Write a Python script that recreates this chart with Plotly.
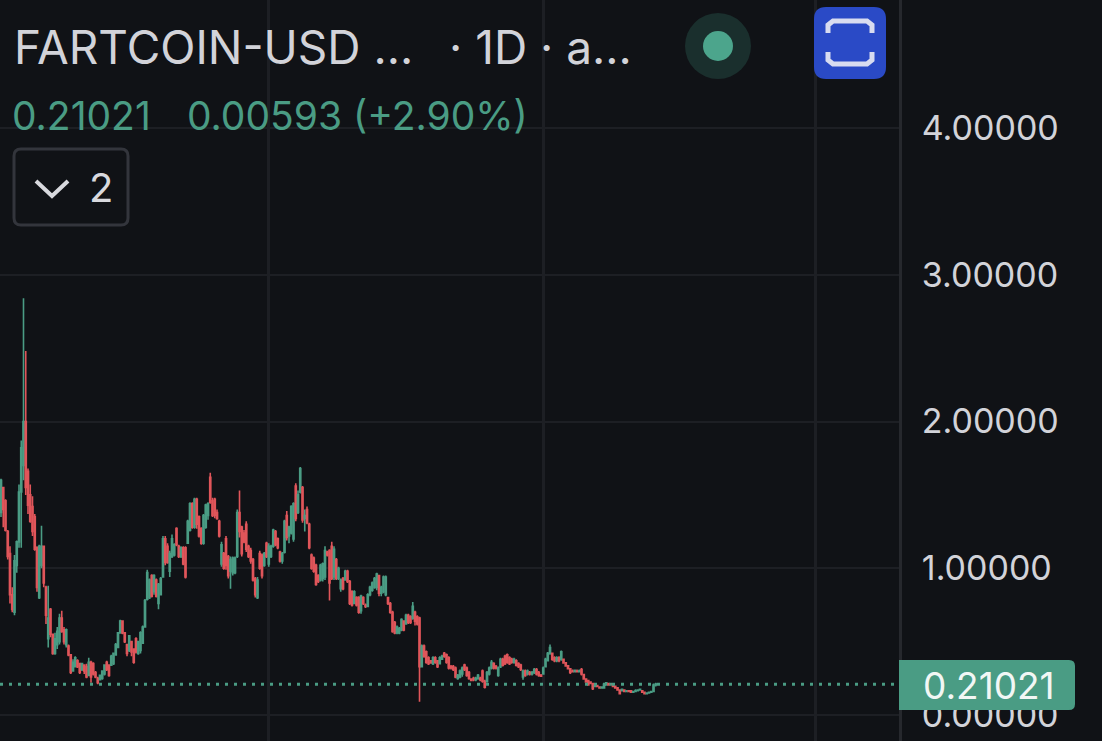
import plotly.graph_objects as go

# Daily bars, in USD
highs = [
 1.61,1.55,1.47,1.26,1.15,.87,1.09,1.19,1.57,1.87,
 2.84,2.48,1.68,1.57,1.49,1.37,1.15,1.16,1.29,1.15,
 .88,.88,.73,.55,.56,.60,.69,.71,.60,.59,
 .48,.41,.38,.40,.38,.35,.35,.34,.35,.39,
 .37,.36,.30,.26,.27,.30,.34,.37,.34,.41,
 .42,.49,.56,.65,.64,.56,.48,.54,.50,.45,
 .53,.50,.57,.61,.79,.99,.93,.96,.96,.93,
 .90,.94,1.22,1.22,1.17,1.12,1.23,1.17,1.28,
 1.16,1.15,1.15,1.15,1.33,1.45,1.45,1.48,1.48,1.36,
 1.28,1.37,1.44,1.45,1.65,1.48,1.48,1.40,1.33,1.18,
 1.11,1.22,1.09,1.08,1.08,1.08,1.40,1.53,1.29,1.26,
 1.32,1.16,1.14,1.07,.94,.94,1.12,1.10,1.11,1.18,1.17,
 1.16,1.27,1.26,1.21,1.12,1.11,1.33,1.39,1.29,1.43,1.45,
 1.58,1.53,1.69,1.56,1.40,1.42,1.31,1.10,1.08,1.03,
 .96,1.03,1.04,1.15,1.12,1.13,1.18,1.15,1.07,1.01,
 .93,.94,.99,.99,.92,.85,.85,.81,.81,
 .82,.81,.76,.83,.88,.91,.94,.97,.95,
 .88,.95,.95,.80,.77,.71,.64,.61,.60,.66,
 .64,.69,.69,.68,.77,.71,.68,.67,.48,.48,
 .44,.40,.375,.40,.40,.375,.40,.41,.43,.42,
 .40,.34,.34,.33,.28,.31,.33,.35,.33,.30,
 .25,.26,.26,.28,.26,.31,.24,.30,.33,.375,.36,
 .34,.33,.39,.39,.41,.42,.40,.39,.39,.38,
 .36,.35,.31,.31,.31,.30,.30,.32,.32,.30,
 .28,.33,.39,.43,.48,.42,.40,.40,.40,.44,
 .38,.36,.34,.32,.31,.31,.31,.31,.32,.28,
 .25,.24,.23,.22,.20,.205,.195,.195,.215,.225,
 .22,.22,.21,.195,.19,.175,.18,.175,.17,.17,
 .17,.165,.175,.175,.18,.17,.16,.155,.16,.165,.215,.22,
]
lows = [
 1.35,1.28,1.25,1.06,.76,.70,.68,.97,1.14,1.14,
 1.60,1.50,1.37,1.31,1.22,1.12,.84,.79,1.00,.87,
 .62,.46,.53,.41,.41,.45,.48,.56,.48,.46,
 .40,.28,.30,.33,.32,.28,.30,.28,.25,.27,
 .22,.27,.25,.21,.24,.24,.27,.30,.26,.34,
 .34,.41,.46,.56,.55,.49,.40,.43,.40,.35,
 .42,.41,.42,.49,.60,.78,.79,.80,.82,.80,
 .72,.82,.94,1.02,1.03,.94,1.07,1.08,1.15,
 1.07,1.07,1.02,.93,1.17,1.25,1.27,1.27,1.27,1.21,
 1.16,1.16,1.27,1.33,1.44,1.35,1.34,1.33,1.21,1.01,
 .99,.99,.93,.86,.95,.96,1.07,1.21,1.08,1.17,
 1.11,1.07,1.03,.91,.80,.79,.99,.93,1.01,1.07,1.01,
 1.07,1.14,1.15,1.13,1.04,1.03,1.10,1.19,1.17,1.23,1.18,
 1.32,1.37,1.51,1.31,1.25,1.30,1.13,.99,.97,.88,
 .90,.91,.91,.92,1.08,.78,.92,.92,.92,.92,
 .84,.85,.92,.90,.75,.74,.76,.74,.69,
 .69,.75,.73,.74,.81,.84,.86,.85,.81,
 .81,.83,.81,.75,.69,.56,.55,.55,.55,.57,
 .57,.62,.62,.62,.65,.61,.61,.09,.33,.39,
 .35,.34,.35,.34,.35,.32,.35,.375,.39,.35,
 .31,.31,.30,.25,.24,.25,.26,.30,.26,.24,
 .23,.23,.23,.24,.23,.22,.18,.22,.27,.31,.31,
 .31,.26,.32,.33,.34,.35,.34,.35,.35,.33,
 .32,.30,.24,.26,.27,.27,.27,.28,.27,.26,
 .26,.28,.33,.37,.41,.37,.36,.36,.36,.37,
 .35,.33,.31,.28,.29,.29,.29,.29,.27,.24,
 .22,.20,.21,.17,.19,.19,.18,.18,.18,.20,
 .20,.20,.19,.18,.165,.14,.16,.155,.155,.155,
 .15,.15,.155,.165,.165,.15,.14,.14,.145,.15,.16,.195,
]
opens = [
 1.38,1.55,1.46,1.25,1.10,.82,.70,1.02,1.18,1.52,
 1.70,2.00,1.66,1.50,1.42,1.35,1.14,.80,1.02,1.15,
 .87,.52,.72,.55,.42,.48,.50,.66,.58,.48,
 .47,.41,.30,.33,.37,.35,.31,.34,.33,.27,
 .36,.35,.29,.25,.24,.25,.28,.36,.34,.34,
 .35,.41,.46,.56,.64,.56,.48,.44,.50,.45,
 .52,.42,.44,.49,.60,.79,.80,.95,.84,.92,
 .76,.82,.94,1.20,1.15,.98,1.08,1.09,1.27,
 1.15,1.08,1.14,1.14,1.17,1.26,1.44,1.28,1.47,1.35,
 1.27,1.17,1.28,1.36,1.62,1.46,1.47,1.38,1.32,1.03,
 1.10,1.20,1.08,.98,.97,.97,1.08,1.38,1.28,1.24,
 1.30,1.15,1.12,1.06,.93,.80,1.10,1.09,1.02,1.17,1.03,
 1.08,1.15,1.25,1.20,1.11,1.05,1.11,1.36,1.22,1.24,1.20,
 1.56,1.38,1.52,1.55,1.34,1.40,1.30,1.09,1.07,1.02,
 .95,.92,.93,.94,1.11,1.12,1.15,.94,1.06,.93,
 .86,.93,.92,.98,.91,.84,.76,.80,.80,
 .71,.80,.75,.74,.82,.85,.87,.87,.95,
 .83,.84,.82,.80,.76,.70,.63,.56,.56,.58,
 .64,.62,.68,.67,.66,.70,.67,.66,.33,.47,
 .43,.39,.37,.35,.39,.37,.35,.38,.42,.41,
 .39,.33,.33,.32,.25,.26,.28,.34,.32,.29,
 .245,.25,.24,.25,.25,.30,.23,.23,.28,.32,.35,
 .33,.27,.33,.38,.40,.41,.39,.38,.36,.37,
 .35,.34,.26,.30,.28,.29,.28,.29,.31,.29,
 .27,.28,.33,.37,.42,.42,.39,.37,.39,.38,
 .38,.355,.335,.315,.30,.295,.30,.295,.31,.275,
 .245,.235,.225,.215,.195,.20,.19,.185,.185,.205,
 .215,.205,.21,.195,.185,.17,.165,.17,.16,.165,
 .165,.155,.16,.165,.17,.165,.155,.145,.15,.155,.16,.2043,
]
closes = [
 1.60,1.40,1.26,1.08,.82,.72,1.05,1.18,1.52,1.82,
 2.00,1.55,1.43,1.32,1.25,1.13,.87,1.15,1.15,.90,
 .68,.66,.55,.42,.52,.57,.66,.57,.50,.58,
 .41,.29,.36,.39,.33,.29,.35,.30,.26,.36,
 .26,.28,.26,.22,.27,.30,.34,.31,.27,.40,
 .42,.48,.56,.64,.56,.50,.42,.54,.43,.36,
 .43,.50,.56,.60,.78,.97,.92,.81,.95,.81,
 .89,.93,1.20,1.04,1.04,1.10,1.20,1.16,1.16,
 1.08,1.14,1.03,.94,1.32,1.44,1.28,1.47,1.30,1.22,
 1.17,1.36,1.43,1.44,1.45,1.36,1.36,1.34,1.22,1.16,
 1.00,1.02,.95,1.06,1.07,1.07,1.38,1.25,1.10,1.18,
 1.13,1.08,1.05,.92,.82,.92,1.00,.95,1.10,1.08,1.15,
 1.15,1.26,1.16,1.14,1.05,1.10,1.32,1.21,1.28,1.42,1.44,
 1.34,1.50,1.68,1.33,1.36,1.31,1.14,1.00,.98,.89,
 .91,1.02,1.03,1.12,1.09,.90,.93,1.13,.93,1.00,
 .92,.86,.98,.91,.76,.75,.84,.75,.70,
 .81,.76,.74,.82,.87,.90,.93,.96,.83,
 .87,.94,.94,.76,.70,.57,.56,.60,.59,.65,
 .58,.68,.63,.63,.74,.64,.62,.33,.47,.40,
 .36,.35,.355,.39,.36,.33,.39,.40,.40,.36,
 .32,.32,.31,.26,.27,.30,.32,.31,.27,.25,
 .235,.24,.25,.27,.24,.23,.19,.29,.32,.36,.32,
 .32,.32,.38,.34,.35,.36,.35,.36,.38,.34,
 .33,.31,.30,.27,.30,.28,.29,.31,.28,.27,
 .265,.32,.38,.42,.46,.38,.37,.39,.37,.43,
 .355,.335,.315,.29,.295,.305,.295,.30,.28,.245,
 .225,.205,.215,.18,.20,.195,.185,.19,.21,.22,
 .205,.215,.195,.185,.17,.145,.175,.16,.165,.16,
 .155,.16,.165,.17,.175,.155,.145,.15,.155,.16,.204,.21021,
]
days = list(range(len(closes)))

y_ticks = [0, 1, 2, 3, 4]
month_gridlines = [118.7, 240.9, 361.8]
change_text = "0.00593 (+2.90%)"
symbol_text = "FARTCOIN-USD ..."
interval_text = "· 1D · a..."

W, H = 1102, 741
BG = "#101216"
GRID = "#1d1f24"
GREEN = "#4a9c84"
RED = "#e0555a"
LABEL = "#d2d3d9"
FONT = "Inter"

px = lambda x: x / W
py = lambda y: 1 - y / H


def rounded(x0, y0, x1, y1, r, corners=(1, 1, 1, 1)):
    tl, tr, br, bl = [r * c for c in corners]
    pts = [
        f"M{px(x0 + tl)},{py(y0)}",
        f"L{px(x1 - tr)},{py(y0)}", f"Q{px(x1)},{py(y0)} {px(x1)},{py(y0 + tr)}",
        f"L{px(x1)},{py(y1 - br)}", f"Q{px(x1)},{py(y1)} {px(x1 - br)},{py(y1)}",
        f"L{px(x0 + bl)},{py(y1)}", f"Q{px(x0)},{py(y1)} {px(x0)},{py(y1 - bl)}",
        f"L{px(x0)},{py(y0 + tl)}", f"Q{px(x0)},{py(y0)} {px(x0 + tl)},{py(y0)}", "Z",
    ]
    return " ".join(pts)


def poly(points):
    return "M" + " L".join(f"{px(a)},{py(b)}" for a, b in points)


def paper_shape(path, fill=None, line=None, width=0):
    return dict(type="path", xref="paper", yref="paper", path=path, layer="above",
                fillcolor=fill or "rgba(0,0,0,0)",
                line=dict(color=line or "rgba(0,0,0,0)", width=width))


def circle(cx, cy, r, fill):
    return dict(type="circle", xref="paper", yref="paper", layer="above", fillcolor=fill,
                x0=px(cx - r), x1=px(cx + r), y0=py(cy + r), y1=py(cy - r),
                line=dict(width=0))


def label(text, x, y, size, color, anchor="left"):
    return dict(text=text, x=px(x), y=py(y), xref="paper", yref="paper", xanchor=anchor,
                yanchor="middle", showarrow=False, font=dict(family=FONT, size=size, color=color))


fig = go.Figure(go.Candlestick(
    x=days, open=opens, high=highs, low=lows, close=closes,
    whiskerwidth=0, hoverinfo="skip",
    increasing=dict(line=dict(color=GREEN, width=1.6), fillcolor=GREEN),
    decreasing=dict(line=dict(color=RED, width=1.6), fillcolor=RED),
))

shapes = [
    dict(type="line", xref="paper", yref="y", x0=0, x1=899 / W, y0=closes[-1], y1=closes[-1],
         layer="above", line=dict(color=GREEN, width=3, dash="3px,6px")),
    paper_shape(rounded(899, 660, 1075, 710, 6, (0, 1, 1, 0)), fill=GREEN),
    circle(718, 46, 33, "#1a2f2d"),
    circle(718, 46, 15, "#4ca58c"),
    paper_shape(rounded(814, 7, 886, 79, 12), fill="#2a4ac6"),
    paper_shape(poly([(828, 33), (828, 25), (833, 21), (867, 21), (872, 25), (872, 33)]),
                line="#d8dcf0", width=5),
    paper_shape(poly([(828, 52), (828, 60), (833, 64), (867, 64), (872, 60), (872, 52)]),
                line="#d8dcf0", width=5),
    paper_shape(rounded(14, 149, 128, 225, 7), line="#33353c", width=3),
    paper_shape(poly([(36, 181), (52, 196), (68, 181)]), line="#d8d9de", width=4),
]

annotations = [
    label(symbol_text, 12, 47, 46, LABEL),
    label(interval_text, 447, 47, 46, LABEL),
    label(f"{closes[-1]:.5f}", 10, 115, 39, GREEN),
    label(change_text, 185, 115, 39, GREEN),
    label("2", 101, 187, 40, "#d8d9de", "center"),
    label(f"{closes[-1]:.5f}", 989, 685, 37, "#f2f7f5", "center"),
]

fig.update_layout(
    width=W, height=H, margin=dict(l=0, r=0, t=0, b=0), autosize=False,
    paper_bgcolor=BG, plot_bgcolor=BG, showlegend=False,
    font=dict(family=FONT, color=LABEL),
    shapes=shapes, annotations=annotations,
    xaxis=dict(domain=[0, 899 / W], range=[-0.444, 399.1], rangeslider=dict(visible=False),
               tickmode="array", tickvals=month_gridlines, showticklabels=False, ticks="",
               showgrid=True, gridcolor=GRID, gridwidth=3, zeroline=False, showline=False),
    yaxis=dict(side="right", range=[-0.177, 4.872], tickmode="array", tickvals=y_ticks,
               tickformat=".5f", showgrid=True, gridcolor=GRID, gridwidth=2, zeroline=False,
               showline=True, linecolor="#26282d", linewidth=3, mirror=False,
               ticks="outside", ticklen=13, tickcolor=BG, tickwidth=1,
               tickfont=dict(family=FONT, size=34, color=LABEL)),
)

fig.write_html("out.html", config={"displayModeBar": False, "responsive": False},
               post_script="document.body.style.margin='0';document.documentElement.style.overflow='hidden';")
